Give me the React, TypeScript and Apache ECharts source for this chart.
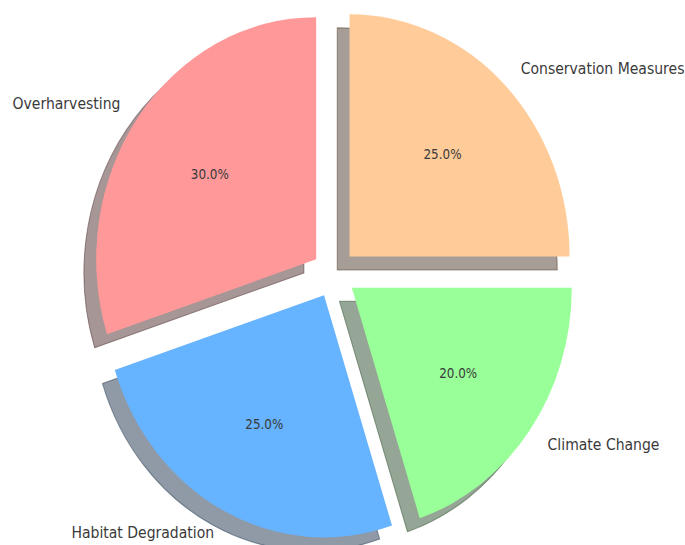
import React, { useEffect, useRef } from 'react';
import * as echarts from 'echarts';

// ---- data ----
const categories = ['Overharvesting', 'Habitat Degradation', 'Climate Change', 'Conservation Measures'];
const values = [30, 25, 20, 25];
const sliceColors = ['#ff9999', '#66b3ff', '#99ff99', '#ffcc99'];

// ---- layout (unstretched coordinates; the drawing is stretched vertically) ----
const W = 685;
const H_OUT = 545;
const H_IN = 495;
const STRETCH = H_OUT / H_IN;
const CX = 334;
const CY = 248.5;
const R = 220;
const EXPLODE = 22;
const SHADOW_DX = -12.3;
const SHADOW_DY = 12.3;
const TEXT = '#3a3a3a';
const FONT = 'DejaVu Sans';

function shadeOf(hex: string): string {
  const n = parseInt(hex.slice(1), 16);
  const r = (n >> 16) & 255;
  const g = (n >> 8) & 255;
  const b = n & 255;
  return `rgba(${Math.round(r * 0.3)},${Math.round(g * 0.3)},${Math.round(b * 0.3)},0.5)`;
}

export default function App() {
  const ref = useRef<HTMLDivElement>(null);

  useEffect(() => {
    if (!ref.current) return;
    const chart = echarts.init(ref.current, null, { renderer: 'svg' });

    const base = {
      type: 'pie',
      startAngle: 90,
      clockwise: false,
      silent: true,
      animation: false,
      avoidLabelOverlap: false,
      emphasis: { disabled: true, scale: false },
      labelLine: { show: false, length: 0, length2: 0 },
    };

    const shadowSeries = {
      ...base,
      name: 'shadow',
      z: 1,
      center: [CX + SHADOW_DX, CY + SHADOW_DY],
      radius: R,
      selectedMode: 'multiple',
      selectedOffset: EXPLODE,
      label: { show: false },
      data: categories.map((name, i) => ({
        name,
        value: values[i],
        selected: true,
        itemStyle: { color: shadeOf(sliceColors[i]), borderColor: shadeOf(sliceColors[i]), borderWidth: 1 },
      })),
    };

    const mainSeries = {
      ...base,
      name: 'main',
      z: 2,
      center: [CX, CY],
      radius: R,
      selectedMode: 'multiple',
      selectedOffset: EXPLODE,
      label: { show: false },
      data: categories.map((name, i) => ({
        name,
        value: values[i],
        selected: true,
        itemStyle: { color: sliceColors[i], borderWidth: 0 },
      })),
    };

    const nameLabels = {
      ...base,
      name: 'names',
      z: 3,
      center: [CX, CY],
      radius: R * 1.2,
      label: {
        show: true,
        position: 'outside',
        formatter: '{b}',
        color: TEXT,
        fontSize: 14,
        fontFamily: FONT,
        distanceToLabelLine: 0,
      },
      data: categories.map((name, i) => ({
        name,
        value: values[i],
        itemStyle: { color: 'rgba(0,0,0,0)' },
      })),
    };

    const pctLabels = {
      ...base,
      name: 'pct',
      z: 4,
      center: [CX, CY],
      radius: [R * 0.7 - 25, R * 0.7 + 18],
      percentPrecision: 1,
      label: {
        show: true,
        position: 'inside',
        rotate: 0,
        formatter: (p: any) => `${Number(p.percent).toFixed(1)}%`,
        color: TEXT,
        fontSize: 12,
        fontFamily: FONT,
      },
      data: categories.map((name, i) => ({
        name,
        value: values[i],
        itemStyle: { color: 'rgba(0,0,0,0)' },
      })),
    };

    chart.setOption({
      animation: false,
      backgroundColor: '#ffffff',
      series: [shadowSeries, mainSeries, nameLabels, pctLabels],
    } as any);

    return () => chart.dispose();
  }, []);

  return (
    <div
      style={{
        position: 'absolute',
        left: 0,
        top: 0,
        width: W,
        height: H_OUT,
        overflow: 'hidden',
        background: '#ffffff',
      }}
    >
      <div
        ref={ref}
        style={{
          width: W,
          height: H_IN,
          transform: `scaleY(${STRETCH})`,
          transformOrigin: '0 0',
        }}
      />
    </div>
  );
}
